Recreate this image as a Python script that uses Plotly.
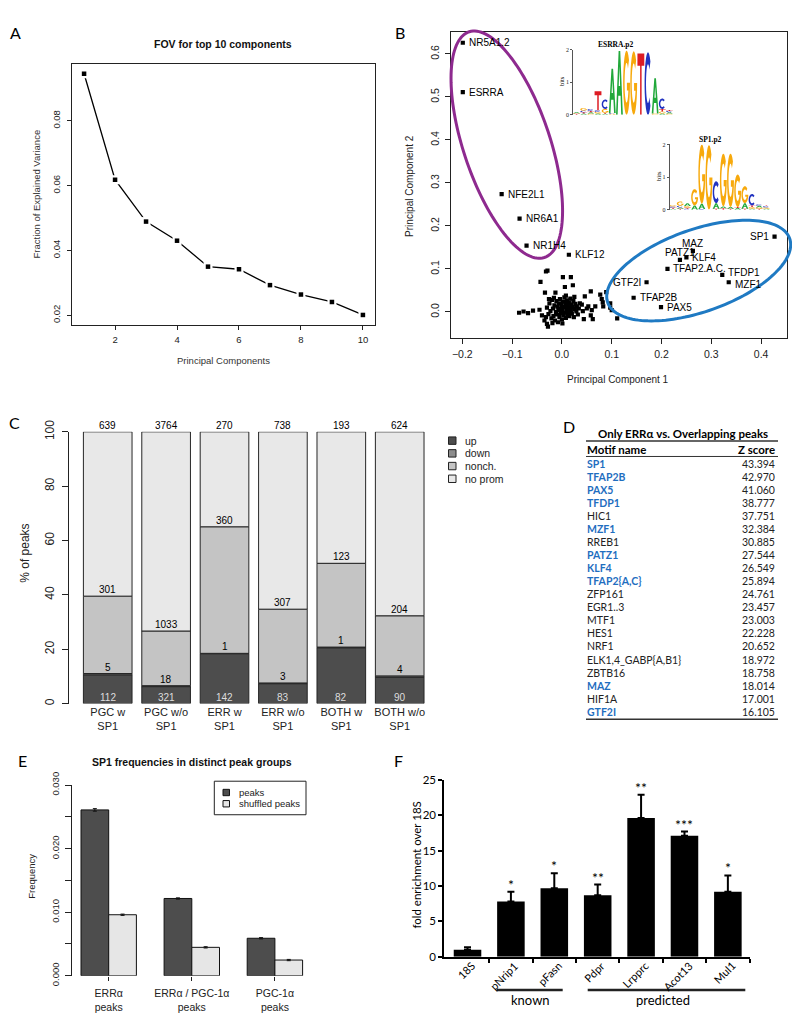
import numpy as np
import plotly.graph_objects as go

# The page body has an 8px margin, so the figure is drawn 8px right/down.
OFF = 8
W, H = 800 - OFF, 1031 - OFF

# ======================= DATA =======================
# Panel A
pc_index = [1, 2, 3, 4, 5, 6, 7, 8, 9, 10]
fov = [0.0945, 0.0618, 0.0489, 0.0430, 0.0350, 0.0342, 0.0293, 0.0264, 0.0241, 0.0201]

# Panel B - labelled motifs
motif_labels = ["NR5A1.2", "ESRRA", "NFE2L1", "NR6A1", "NR1H4", "KLF12", "SP1", "MAZ",
                "PATZ1", "KLF4", "TFAP2.A.C.", "TFDP1", "MZF1", "GTF2I", "TFAP2B", "PAX5"]
motif_pc1 = [-0.199, -0.199, -0.121, -0.085, -0.071, 0.014, 0.427, 0.263,
             0.237, 0.250, 0.212, 0.322, 0.335, 0.170, 0.144, 0.199]
motif_pc2 = [0.626, 0.511, 0.274, 0.217, 0.154, 0.133, 0.175, 0.142,
             0.121, 0.127, 0.100, 0.086, 0.069, 0.069, 0.033, 0.011]
# Panel B - unlabelled motifs
other_pc1 = [-0.086, -0.077, -0.068, -0.058, -0.045, -0.043, -0.032, -0.029, -0.034, -0.013,
             0.002, 0.018, 0.006, 0.022, 0.058, 0.077, 0.080, 0.082, 0.089, 0.046,
             0.040, 0.053, 0.067, 0.083, 0.097, 0.097, 0.042, 0.050, 0.060, 0.062,
             0.044, 0.111, 0.100, 0.058, -0.030, -0.028, -0.035, -0.040,
             -0.030, -0.027, -0.025, -0.023, -0.021, -0.020, -0.018, -0.017, -0.015, -0.014,
             -0.012, -0.011, -0.010, -0.009, -0.008, -0.007, -0.006, -0.005, -0.004, -0.003,
             -0.002, -0.001, 0.000, 0.001, 0.002, 0.003, 0.004, 0.005, 0.006, 0.007,
             0.008, 0.009, 0.010, 0.011, 0.012, 0.013, 0.014, 0.015, 0.016, 0.017,
             0.018, 0.019, 0.020, 0.022, 0.023, 0.024, 0.026, 0.027, 0.029, 0.030,
             0.032, 0.034, -0.016, -0.026, 0.008, 0.025, -0.032, 0.036, -0.019, 0.001]
other_pc2 = [-0.002, 0.001, -0.003, 0.003, 0.005, 0.070, 0.094, 0.096, 0.045, 0.045,
             0.081, 0.081, 0.058, 0.062, 0.048, 0.040, 0.030, 0.022, 0.046, 0.036,
             0.017, 0.013, 0.013, 0.013, 0.020, 0.010, 0.002, 0.008, 0.004, -0.017,
             -0.017, -0.015, 0.004, -0.008, -0.028, -0.034, -0.020, -0.008,
             0.010, -0.005, 0.020, 0.002, -0.015, 0.028, 0.008, -0.010, 0.015, -0.020,
             0.000, 0.025, -0.006, 0.012, -0.024, 0.004, 0.020, -0.012, 0.030, 0.007,
             -0.003, 0.016, -0.018, 0.002, 0.024, -0.008, 0.011, 0.034, -0.002, 0.018,
             -0.014, 0.006, 0.027, -0.006, 0.014, 0.000, 0.022, -0.010, 0.009, 0.031,
             0.003, 0.017, -0.004, 0.011, 0.025, -0.012, 0.006, 0.019, 0.001, 0.013,
             -0.006, 0.008, 0.033, 0.030, 0.038, 0.035, -0.012, 0.020, -0.026, -0.027]

# Sequence logos (stacks per position, bottom -> top, in bits)
esrra_logo = [
    [("T", 0.03), ("G", 0.02), ("A", 0.03)],
    [("A", 0.04), ("T", 0.04), ("C", 0.05), ("G", 0.08)],
    [("G", 0.04), ("A", 0.04), ("T", 0.04), ("C", 0.06)],
    [("A", 0.04), ("G", 0.05), ("C", 0.05), ("T", 0.58)],
    [("A", 0.03), ("T", 0.03), ("G", 0.12), ("C", 0.29)],
    [("G", 0.03), ("C", 0.03), ("A", 1.35)],
    [("A", 1.96)],
    [("G", 1.97)],
    [("G", 1.95)],
    [("T", 1.88)],
    [("C", 1.92)],
    [("G", 0.04), ("A", 1.08)],
    [("A", 0.04), ("G", 0.06), ("T", 0.08), ("C", 0.32)],
    [("G", 0.04), ("A", 0.04), ("C", 0.04), ("T", 0.03)],
]
sp1_logo = [
    [("A", 0.03), ("T", 0.03), ("C", 0.04), ("G", 0.04)],
    [("T", 0.03), ("A", 0.04), ("C", 0.05), ("G", 0.13)],
    [("C", 0.03), ("T", 0.03), ("G", 0.05), ("A", 0.09)],
    [("A", 0.13), ("G", 0.50)],
    [("C", 0.02), ("A", 0.16), ("G", 1.82)],
    [("G", 1.98)],
    [("T", 0.03), ("A", 0.17), ("C", 0.67)],
    [("T", 0.04), ("A", 0.06), ("G", 1.62)],
    [("T", 0.03), ("A", 0.05), ("G", 1.64)],
    [("A", 0.05), ("T", 0.03), ("G", 1.00)],
    [("T", 0.03), ("A", 0.17), ("G", 0.52)],
    [("A", 0.03), ("G", 0.05), ("T", 0.05), ("C", 0.35)],
    [("T", 0.03), ("G", 0.04), ("A", 0.05), ("C", 0.04)],
    [("A", 0.03), ("G", 0.04), ("C", 0.04), ("T", 0.02)],
]

# Panel C
c_groups = ["PGC w<br>SP1", "PGC w/o<br>SP1", "ERR w<br>SP1", "ERR w/o<br>SP1",
            "BOTH w<br>SP1", "BOTH w/o<br>SP1"]
up_counts = [112, 321, 142, 83, 82, 90]
down_counts = [5, 18, 1, 3, 1, 4]
nonch_counts = [301, 1033, 360, 307, 123, 204]
noprom_counts = [639, 3764, 270, 738, 193, 624]
c_categories = ["up", "down", "nonch.", "no prom"]

# Panel D
d_motifs = ["SP1", "TFAP2B", "PAX5", "TFDP1", "HIC1", "MZF1", "RREB1", "PATZ1", "KLF4",
            "TFAP2{A,C}", "ZFP161", "EGR1..3", "MTF1", "HES1", "NRF1", "ELK1,4_GABP{A,B1}",
            "ZBTB16", "MAZ", "HIF1A", "GTF2I"]
d_zscores = [43.394, 42.970, 41.060, 38.777, 37.751, 32.384, 30.885, 27.544, 26.549,
             25.894, 24.761, 23.457, 23.003, 22.228, 20.652, 18.972, 18.758, 18.014,
             17.001, 16.105]
d_in_cluster = [True, True, True, True, False, True, False, True, True, True, False, False,
                False, False, False, False, False, True, False, True]

# Panel E
e_groups = ["ERRα<br>peaks", "ERRα / PGC-1α<br>peaks", "PGC-1α<br>peaks"]
e_peaks = [0.0261, 0.01216, 0.0059]
e_peaks_err = [0.0002, 0.0001, 0.0001]
e_shuffled = [0.0096, 0.00447, 0.00247]
e_shuffled_err = [0.0001, 0.0001, 0.0001]

# Panel F
f_genes = ["18S", "pNrip1", "pFasn", "Pdpr", "Lrpprc", "Acot13", "Mul1"]
f_fold = [1.0, 7.8, 9.7, 8.7, 19.6, 17.1, 9.2]
f_err = [0.35, 1.4, 2.1, 1.5, 3.3, 0.6, 2.3]
f_stars = ["", "*", "*", "**", "**", "***", "*"]

# ======================= HELPERS =======================
RF = "Liberation Sans"
CF = "Lato"


def PX(x):
    return (x - OFF) / W


def PY(y):
    return 1 - (y - OFF) / H


def xd(a, b):
    return [PX(a), PX(b)]


def yd(top, bottom):
    return [PY(bottom), PY(top)]


annotations = []
shapes = []


def ann(text, x, y, size=10, family=RF, color="black", xanchor="center", yanchor="middle",
        angle=0, xref="paper", yref="paper", yshift=0, xshift=0):
    if xref == "paper":
        x = PX(x)
    if yref == "paper":
        y = PY(y)
    annotations.append(dict(text=text, x=x, y=y, xref=xref, yref=yref, showarrow=False,
                            font=dict(size=size, family=family, color=color),
                            xanchor=xanchor, yanchor=yanchor, textangle=angle,
                            yshift=yshift, xshift=xshift, borderpad=0))


def pline(x0, y0, x1, y1, width=1, color="black"):
    shapes.append(dict(type="line", xref="paper", yref="paper", x0=PX(x0), x1=PX(x1),
                       y0=PY(y0), y1=PY(y1), line=dict(color=color, width=width)))


def prect(x0, y0, x1, y1, fill, width=1, color="black"):
    shapes.append(dict(type="rect", xref="paper", yref="paper", x0=PX(x0), x1=PX(x1),
                       y0=PY(y1), y1=PY(y0), fillcolor=fill,
                       line=dict(color=color, width=width)))


def ellipse(cx, cy, a, b, ang_deg, color, width):
    t = np.linspace(0, 2 * np.pi, 145)
    ang = np.radians(ang_deg)
    ux, uy = np.cos(ang), np.sin(ang)
    vx, vy = -np.sin(ang), np.cos(ang)
    px = cx + a * np.cos(t) * ux + b * np.sin(t) * vx
    py = cy + a * np.cos(t) * uy + b * np.sin(t) * vy
    pts = [f"{PX(x):.5f},{PY(y):.5f}" for x, y in zip(px, py)]
    shapes.append(dict(type="path", xref="paper", yref="paper",
                       path="M " + " L ".join(pts) + " Z",
                       line=dict(color=color, width=width)))


def arc(r_x, r_y, a0, a1, n=24):
    ang = np.radians(np.linspace(a0, a1, n))
    return [(0.5 + r_x * np.cos(a), 0.5 + r_y * np.sin(a)) for a in ang]


GLYPHS = {
    "A": [[(0, 0), (0.38, 1), (0.62, 1), (1, 0), (0.76, 0), (0.665, 0.3), (0.335, 0.3), (0.24, 0)],
          [(0.40, 0.45), (0.60, 0.45), (0.5, 0.76)]],
    "T": [[(0, 1), (1, 1), (1, 0.8), (0.61, 0.8), (0.61, 0), (0.39, 0), (0.39, 0.8), (0, 0.8)]],
    "C": [arc(0.5, 0.5, 45, 315) + arc(0.29, 0.31, 315, 45)],
    "G": [arc(0.5, 0.5, 45, 360) + [(0.55, 0.5), (0.55, 0.38)] + arc(0.29, 0.31, 337, 45)],
}
LOGO_COL = {"A": "#21a83a", "C": "#2233c0", "G": "#f7a90c", "T": "#dd1c24"}


def draw_logo(cols, xref, yref):
    for i, stack in enumerate(cols):
        base = 0.0
        x0 = i + 1 - 0.48
        w = 0.96
        for letter, h in stack:
            parts = []
            for poly in GLYPHS[letter]:
                pts = [f"{x0 + u * w:.4f},{base + v * h:.4f}" for u, v in poly]
                parts.append("M " + " L ".join(pts) + " Z")
            shapes.append(dict(type="path", xref=xref, yref=yref, path=" ".join(parts),
                               fillcolor=LOGO_COL[letter], line=dict(width=0), layer="above"))
            base += h


def r_axis(**kw):
    d = dict(showgrid=False, zeroline=False, showline=True, linecolor="#222", linewidth=1,
             ticks="outside", ticklen=4, tickcolor="#222", tickwidth=1,
             tickfont=dict(family=RF, size=9.5, color="#222"))
    d.update(kw)
    return d


fig = go.Figure()

# ======================= PANEL A =======================
fig.add_trace(go.Scatter(x=pc_index, y=fov, mode="lines", line=dict(color="black", width=1.3),
                         xaxis="x", yaxis="y", showlegend=False, hoverinfo="skip"))
fig.add_trace(go.Scatter(x=pc_index, y=fov, mode="markers",
                         marker=dict(symbol="square", size=9, color="white"),
                         xaxis="x", yaxis="y", showlegend=False, hoverinfo="skip"))
fig.add_trace(go.Scatter(x=pc_index, y=fov, mode="markers",
                         marker=dict(symbol="square", size=4.5, color="black"),
                         xaxis="x", yaxis="y", showlegend=False))
ann("<b>FOV for top 10 components</b>", 223, 32, size=10.5, color="#111")
ann("Principal Components", 223, 355, size=9.5, color="#333")
ann("Fraction of Explained Variance", 37, 185.5, size=9.5, color="#333", angle=-90)
ann("A", 15, 20, size=16, family=CF)

# ======================= PANEL B =======================
fig.add_trace(go.Scatter(x=other_pc1, y=other_pc2, mode="markers",
                         marker=dict(symbol="square", size=4.2, color="black"),
                         xaxis="x2", yaxis="y2", showlegend=False))
fig.add_trace(go.Scatter(x=motif_pc1, y=motif_pc2, mode="markers",
                         marker=dict(symbol="square", size=4.2, color="black"),
                         xaxis="x2", yaxis="y2", showlegend=False))
# label placement style: (xanchor, yanchor, xshift, yshift)
b_label_style = {
    "SP1": ("right", "middle", -5, 0), "GTF2I": ("right", "middle", -5, 0),
    "MAZ": ("center", "bottom", 0, 1), "PATZ1": ("center", "bottom", 0, 1),
    "TFDP1": ("left", "middle", 5, 2), "MZF1": ("left", "middle", 5, -2),
}
for lab, px_, py_ in zip(motif_labels, motif_pc1, motif_pc2):
    xa, ya, xs, ys = b_label_style.get(lab, ("left", "middle", 5, 0))
    ann(lab, px_, py_, size=10, xref="x2", yref="y2", xanchor=xa, yanchor=ya,
        xshift=xs, yshift=ys)
ellipse(506.8, 134.5, 121.4, 43.4, 72, "#8e2a8f", 3)
ellipse(698.7, 263.3, 96.7, 42, -20, "#1f7ac3", 3)
ann("Principal Component 1", 618, 375, size=10, color="#222")
ann("Principal Component 2", 410, 176.7, size=10, color="#222", angle=-90)
ann("B", 400, 20, size=16, family=CF)

# logos
draw_logo(esrra_logo, "x6", "y6")
draw_logo(sp1_logo, "x7", "y7")
ann("<b>ESRRA.p2</b>", 615, 32, size=7.5, family="Liberation Serif")
ann("<b>SP1.p2</b>", 710, 129, size=7.5, family="Liberation Serif")
ann("bits", 561.5, 70, size=6.5, family="Liberation Serif", angle=-90)
ann("bits", 658.5, 167, size=6.5, family="Liberation Serif", angle=-90)

# ======================= PANEL C =======================
tot = [u + d + n + p for u, d, n, p in zip(up_counts, down_counts, nonch_counts, noprom_counts)]
pct = {
    "up": [100 * u / t for u, t in zip(up_counts, tot)],
    "down": [100 * d / t for d, t in zip(down_counts, tot)],
    "nonch.": [100 * n / t for n, t in zip(nonch_counts, tot)],
    "no prom": [100 * p / t for p, t in zip(noprom_counts, tot)],
}
c_colors = {"up": "#4d4d4d", "down": "#8c8c8c", "nonch.": "#c4c4c4", "no prom": "#e8e8e8"}
c_x = list(range(len(c_groups)))
base = [0.0] * len(c_groups)
tops = {}
for cat in c_categories:
    fig.add_trace(go.Bar(x=c_x, y=pct[cat], base=base, width=0.833, name=cat,
                         marker=dict(color=c_colors[cat], line=dict(color="#262626", width=1)),
                         xaxis="x3", yaxis="y3", showlegend=False))
    base = [b + v for b, v in zip(base, pct[cat])]
    tops[cat] = list(base)

for i in c_x:
    ann(str(noprom_counts[i]), i, 100, size=10, xref="x3", yref="y3", yanchor="bottom", yshift=0)
    ann(str(nonch_counts[i]), i, tops["nonch."][i], size=10, xref="x3", yref="y3",
        yanchor="bottom", yshift=0)
    ann(str(down_counts[i]), i, tops["down"][i], size=10, xref="x3", yref="y3",
        yanchor="bottom", yshift=0)
    ann(str(up_counts[i]), i, 0, size=10, xref="x3", yref="y3", yanchor="bottom", yshift=0,
        color="#dedede")

ann("% of peaks", 25, 553, size=12, angle=-90, color="#222")
ann("C", 14, 419, size=16, family=CF)
for k, cat in enumerate(c_categories):
    yc = 437.3 + 13 * k
    prect(448.5, yc - 3.8, 456, yc + 3.8, c_colors[cat], width=1, color="#222")
    ann(cat, 464, yc, size=10.5, xanchor="left", color="#222")

# ======================= PANEL D =======================
ann("<b>Only ERRα vs. Overlapping peaks</b>", 682.5, 430, size=11.5, family=CF)
pline(586, 437.7, 778, 437.7, width=1.5, color="#333")
ann("<b>Motif name</b>", 586, 446.5, size=11.5, family=CF, xanchor="left")
ann("<b>Z score</b>", 776, 446.5, size=11.5, family=CF, xanchor="right")
pline(586, 453.5, 778, 453.5, width=1, color="#333")
for i, (m, z, hl) in enumerate(zip(d_motifs, d_zscores, d_in_cluster)):
    yc = 460.7 + 13.37 * i
    txt = f"<b>{m}</b>" if hl else m
    ann(txt, 586, yc, size=10.5, family=CF, xanchor="left",
        color="#1f6ebf" if hl else "#222")
    ann(f"{z:.3f}", 776, yc, size=10.5, family=CF, xanchor="right", color="#222")
pline(586, 722.3, 778, 722.3, width=1.5, color="#333")
ann("D", 569, 422.7, size=16, family=CF)

# ======================= PANEL E =======================
e_dark_x = [1.5, 4.5, 7.5]
e_light_x = [2.5, 5.5, 8.5]
fig.add_trace(go.Bar(x=e_dark_x, y=e_peaks, width=1, name="peaks",
                     marker=dict(color="#4d4d4d", line=dict(color="#111", width=1)),
                     error_y=dict(type="data", array=e_peaks_err, color="#111", thickness=1, width=2),
                     xaxis="x4", yaxis="y4", showlegend=False))
fig.add_trace(go.Bar(x=e_light_x, y=e_shuffled, width=1, name="shuffled peaks",
                     marker=dict(color="#e6e6e6", line=dict(color="#111", width=1)),
                     error_y=dict(type="data", array=e_shuffled_err, color="#111", thickness=1, width=2),
                     xaxis="x4", yaxis="y4", showlegend=False))
ann("<b>SP1 frequencies in distinct peak groups</b>", 191.5, 766.5, size=10.5, color="#111")
ann("Frequency", 31.5, 883, size=9.5, angle=-90, color="#222")
ann("E", 22, 765, size=16, family=CF)
prect(214.3, 785.7, 306, 820, "rgba(0,0,0,0)", width=1, color="#222")
prect(223, 794, 229.5, 800.5, "#4d4d4d", width=1, color="#111")
prect(223, 805.5, 229.5, 812, "#e6e6e6", width=1, color="#111")
ann("peaks", 238, 797.3, size=9.5, xanchor="left", color="#222")
ann("shuffled peaks", 238, 808.7, size=9.5, xanchor="left", color="#222")

# ======================= PANEL F =======================
f_x = list(range(len(f_genes)))
fig.add_trace(go.Bar(x=f_x, y=f_fold, width=0.635, name="fold enrichment",
                     marker=dict(color="black", line=dict(color="black", width=0)),
                     error_y=dict(type="data", symmetric=False, array=f_err,
                                  arrayminus=[0] * len(f_err), color="black", thickness=2, width=3.5),
                     xaxis="x5", yaxis="y5", showlegend=False))
for i in f_x:
    if f_stars[i]:
        ann(f_stars[i], i, f_fold[i] + f_err[i], size=14, family=CF, xref="x5", yref="y5",
            yanchor="bottom", yshift=-2)
    ann(f_genes[i], i + 0.26, 0, size=11, family=CF, xref="x5", yref="y5",
        xanchor="right", yanchor="top", angle=-45, yshift=-1)
ann("fold enrichment over 18S", 416.5, 871.5, size=11.5, family=CF, angle=-90)
pline(496.7, 999.3, 562.7, 999.3, width=2.5, color="#222")
pline(587.7, 999.3, 745.3, 999.3, width=2.5, color="#222")
ann("known", 530, 1010, size=13, family=CF)
ann("predicted", 662.5, 1010, size=13, family=CF)
ann("F", 398, 765, size=16, family=CF)

# ======================= LAYOUT =======================
logo_ax = dict(showgrid=False, zeroline=False, showline=True, linecolor="#555", linewidth=0.8,
               ticks="outside", ticklen=2, tickcolor="#555", tickvals=[0, 1, 2],
               tickfont=dict(family="Liberation Serif", size=6, color="#222"), range=[0, 2])
logo_x = dict(showgrid=False, zeroline=False, showline=False, showticklabels=False,
              ticks="", range=[0.5, 14.5])

fig.update_layout(
    width=W, height=H, margin=dict(l=0, r=0, t=0, b=0),
    paper_bgcolor="white", plot_bgcolor="rgba(0,0,0,0)",
    barmode="overlay", showlegend=False,
    xaxis=r_axis(domain=xd(72, 375), range=[0.61, 10.39], tickvals=[2, 4, 6, 8, 10],
                 mirror=True, anchor="y", ticklabelstandoff=2),
    yaxis=r_axis(domain=yd(52, 319), range=[0.017, 0.0975], tickvals=[0.02, 0.04, 0.06, 0.08],
                 tickformat=".2f", tickangle=-90, mirror=True, anchor="x", ticklabelstandoff=3),
    xaxis2=r_axis(domain=xd(451, 787), range=[-0.2227, 0.452], mirror=True, anchor="y2",
                  tickvals=[-0.2, -0.1, 0, 0.1, 0.2, 0.3, 0.4],
                  ticktext=["\u22120.2", "\u22120.1", "0.0", "0.1", "0.2", "0.3", "0.4"],
                  ticklen=5, tickfont=dict(family=RF, size=10.5, color="#222"), ticklabelstandoff=2),
    yaxis2=r_axis(domain=yd(19, 332), range=[-0.06, 0.6516], mirror=True, anchor="x2",
                  tickvals=[0, 0.1, 0.2, 0.3, 0.4, 0.5, 0.6],
                  ticktext=["0.0", "0.1", "0.2", "0.3", "0.4", "0.5", "0.6"], tickangle=-90,
                  ticklen=5, tickfont=dict(family=RF, size=10.5, color="#222"), ticklabelstandoff=2),
    xaxis3=dict(domain=xd(69, 440), range=[-0.663, 5.69], showgrid=False, zeroline=False,
                showline=False, ticks="", tickvals=c_x, ticktext=c_groups, anchor="y3",
                tickfont=dict(family=RF, size=11, color="#222"), ticklabelstandoff=0),
    yaxis3=r_axis(domain=yd(428.3, 706.3), range=[0, 100], tickvals=[0, 20, 40, 60, 80, 100],
                  tickangle=-90, ticklen=6, anchor="x3",
                  tickfont=dict(family=RF, size=12, color="#222"), ticklabelstandoff=3),
    xaxis4=dict(domain=xd(72.3, 320), range=[0.686, 9.628], showgrid=False, zeroline=False,
                showline=False, ticks="outside", ticklen=4, tickcolor="#222", tickvals=[2, 5, 8],
                ticktext=e_groups, anchor="y4",
                tickfont=dict(family=RF, size=10.5, color="#222"), ticklabelstandoff=4),
    yaxis4=r_axis(domain=yd(789.7, 984.7), range=[0, 0.030],
                  tickvals=[0, 0.005, 0.01, 0.015, 0.02, 0.025, 0.03],
                  ticktext=["0.000", "", "0.010", "", "0.020", "", "0.030"],
                  tickangle=-90, ticklen=6, anchor="x4", ticklabelstandoff=3),
    xaxis5=dict(domain=xd(444.3, 750), range=[-0.535, 6.51], showgrid=False, zeroline=False,
                showline=True, linecolor="black", linewidth=2, ticks="outside", ticklen=4,
                tickwidth=2, tickcolor="black",
                tickvals=[0.5, 1.5, 2.5, 3.5, 4.5, 5.5, 6.5], showticklabels=False, anchor="y5"),
    yaxis5=dict(domain=yd(784.3, 965.3), range=[0, 25], showgrid=False, zeroline=False,
                showline=True, linecolor="black", linewidth=2, ticks="outside", ticklen=4,
                tickwidth=2, tickcolor="black", tickvals=[0, 5, 10, 15, 20, 25], anchor="x5",
                tickfont=dict(family=CF, size=11.5, color="black")),
    xaxis6=dict(logo_x, domain=xd(573, 673), anchor="y6"),
    yaxis6=dict(logo_ax, domain=yd(37.3, 104), anchor="x6"),
    xaxis7=dict(logo_x, domain=xd(669.5, 770), anchor="y7"),
    yaxis7=dict(logo_ax, domain=yd(134.3, 201), anchor="x7"),
    annotations=annotations,
    shapes=shapes,
)

fig.write_html("out.html")
